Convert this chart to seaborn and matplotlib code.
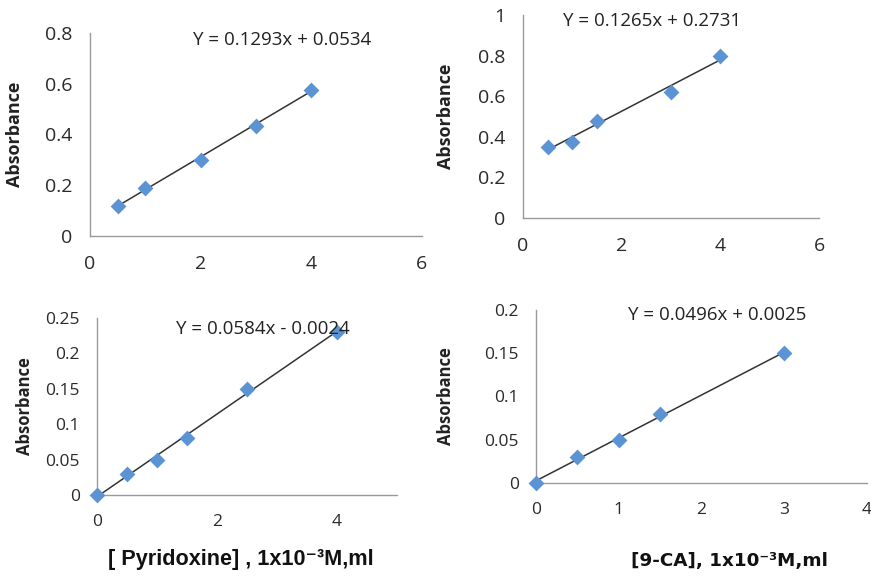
import numpy as np
import pandas as pd
import matplotlib
matplotlib.use("Agg")
import matplotlib.pyplot as plt
import seaborn as sns

sns.set_theme(style="white")
plt.rcParams['font.family'] = ['Open Sans', 'DejaVu Sans']

# panel data
x_tl = [0.5, 1, 2, 3, 4]
y_tl = [0.12, 0.19, 0.30, 0.435, 0.575]
x_tr = [0.5, 1, 1.5, 3, 4]
y_tr = [0.35, 0.375, 0.48, 0.62, 0.80]
x_bl = [0, 0.5, 1, 1.5, 2.5, 4]
y_bl = [0.0, 0.03, 0.05, 0.08, 0.15, 0.23]
x_br = [0, 0.5, 1, 1.5, 3]
y_br = [0.0, 0.03, 0.05, 0.08, 0.15]

slopes = [0.1293, 0.1265, 0.0584, 0.0496]
intercepts = [0.0534, 0.2731, -0.0024, 0.0025]
equations = ["Y = 0.1293x + 0.0534", "Y = 0.1265x + 0.2731",
             "Y = 0.0584x - 0.0024", "Y = 0.0496x + 0.0025"]

xlims = [(0, 6), (0, 6), (0, 5), (0, 4)]
xticks = [[0, 2, 4, 6], [0, 2, 4, 6], [0, 2, 4], [0, 1, 2, 3, 4]]
ylims = [(0, 0.8), (0, 1), (0, 0.25), (0, 0.2)]
yticks = [[0, 0.2, 0.4, 0.6, 0.8], [0, 0.2, 0.4, 0.6, 0.8, 1],
          [0, 0.05, 0.1, 0.15, 0.2, 0.25], [0, 0.05, 0.1, 0.15, 0.2]]
ytick_labels = [["0", "0.2", "0.4", "0.6", "0.8"],
                ["0", "0.2", "0.4", "0.6", "0.8", "1"],
                ["0", "0.05", "0.1", "0.15", "0.2", "0.25"],
                ["0", "0.05", "0.1", "0.15", "0.2"]]

fig = plt.figure(figsize=(8.71, 5.76), dpi=100)
boxes = [[0.1033, 0.5903, 0.3812, 0.3524],
         [0.6005, 0.6215, 0.3398, 0.3525],
         [0.1114, 0.1406, 0.3444, 0.3073],
         [0.6154, 0.1615, 0.3800, 0.3003]]
eq_pos = [(0.578, 0.965), (0.436, 0.97), (0.553, 0.938), (0.547, 0.971)]
ylab_x = [-0.199, -0.23, -0.21, -0.245]
tick_fs = [14, 14, 12.5, 12.5]
ylab_fs = [13, 13, 12, 12]

panels = [(x_tl, y_tl), (x_tr, y_tr), (x_bl, y_bl), (x_br, y_br)]
blue = '#5b93d3'
spine_c = '#9a9a9a'

for i, (xs, ys) in enumerate(panels):
    ax = fig.add_axes(boxes[i])
    df = pd.DataFrame({'x': xs, 'y': ys})
    fit = pd.DataFrame({'x': [min(xs), max(xs)]})
    fit['y'] = slopes[i] * fit['x'] + intercepts[i]
    sns.lineplot(data=fit, x='x', y='y', ax=ax, color='#333333', lw=1.1)
    sns.scatterplot(data=df, x='x', y='y', ax=ax, marker='D', s=65,
                    color=blue, edgecolor=blue, linewidth=0, zorder=3,
                    clip_on=False)
    ax.set_xlim(*xlims[i])
    ax.set_ylim(*ylims[i])
    ax.set_xticks(xticks[i])
    ax.set_xticklabels([str(t) for t in xticks[i]])
    ax.set_yticks(yticks[i])
    ax.set_yticklabels(ytick_labels[i])
    ax.tick_params(axis='both', labelsize=tick_fs[i], labelcolor='#2a2a2a',
                   color=spine_c, length=5, width=1, direction='inout')
    ax.tick_params(axis='y', pad=10)
    ax.tick_params(axis='x', pad=11)
    for s in ['top', 'right']:
        ax.spines[s].set_visible(False)
    for s in ['left', 'bottom']:
        ax.spines[s].set_color(spine_c)
        ax.spines[s].set_linewidth(1)
    ax.set_xlabel('')
    ax.set_ylabel('Absorbance', fontsize=ylab_fs[i], fontweight='bold',
                  color='#222222')
    ax.yaxis.set_label_coords(ylab_x[i], 0.5)
    ax.text(eq_pos[i][0], eq_pos[i][1], equations[i], transform=ax.transAxes,
            ha='center', va='center', fontsize=13.5, color='#222222')

fig.text(0.276, 0.028, '[ Pyridoxine] , 1x10\u207b\u00b3M,ml',
         ha='center', va='center', fontsize=15.6, fontweight='bold',
         color='#111111', family=['Liberation Sans', 'DejaVu Sans'])
fig.text(0.838, 0.026, '[9-CA], 1x10\u207b\u00b3M,ml',
         ha='center', va='center', fontsize=13.2, fontweight='bold',
         color='#111111', family=['DejaVu Sans'])

fig.savefig('out.png', dpi=100)
